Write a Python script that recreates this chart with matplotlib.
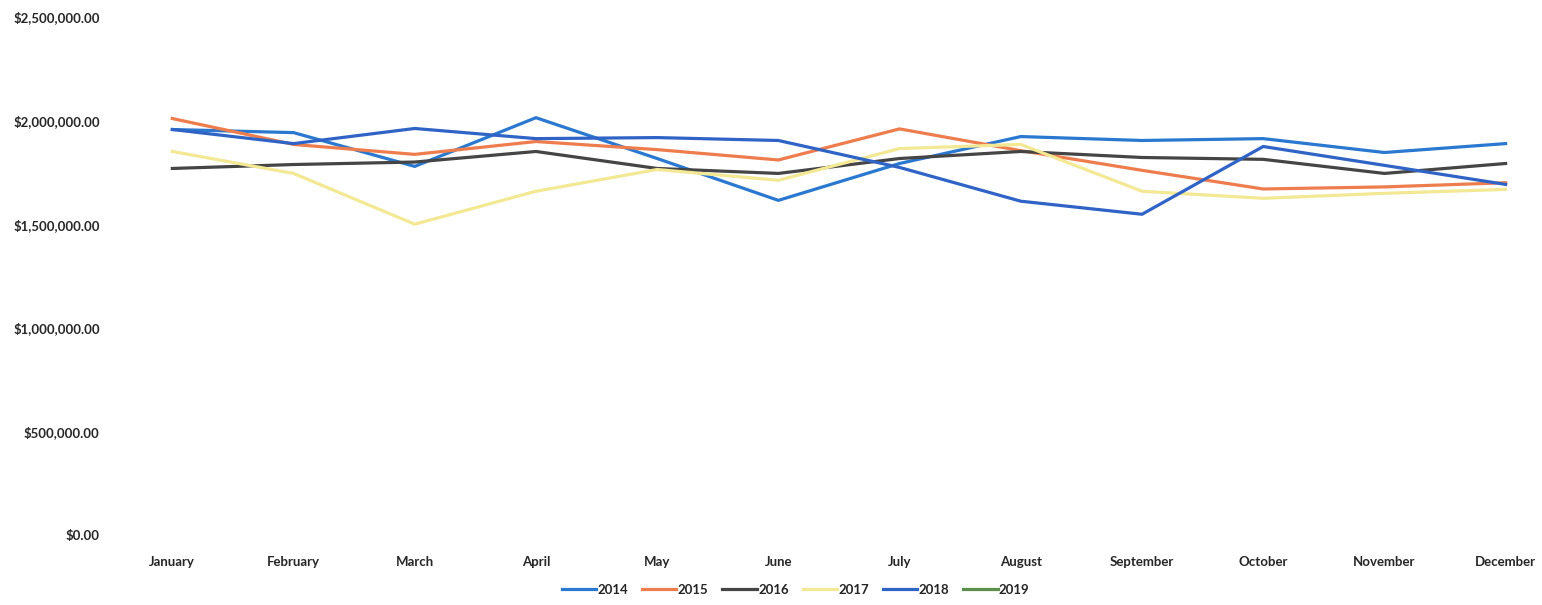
import matplotlib
matplotlib.use("Agg")
import matplotlib.pyplot as plt
from matplotlib.ticker import FuncFormatter

months = ["January", "February", "March", "April", "May", "June",
          "July", "August", "September", "October", "November", "December"]

sales_2014 = [1957000, 1942000, 1779000, 2014000, 1817000, 1615000,
              1793000, 1923000, 1904000, 1913000, 1846000, 1889000]
sales_2015 = [2010000, 1885000, 1837000, 1899000, 1860000, 1810000,
              1960000, 1855000, 1760000, 1670000, 1680000, 1700000]
sales_2016 = [1769000, 1788000, 1800000, 1851000, 1769000, 1745000,
              1817000, 1851000, 1822000, 1813000, 1745000, 1793000]
sales_2017 = [1851000, 1745000, 1500000, 1659000, 1764000, 1712000,
              1865000, 1885000, 1659000, 1625000, 1649000, 1668000]
sales_2018 = [1957000, 1889000, 1962000, 1913000, 1918000, 1904000,
              1774000, 1611000, 1548000, 1875000, 1784000, 1692000]
sales_2019 = [None] * 12

years = ["2014", "2015", "2016", "2017", "2018", "2019"]
series = [sales_2014, sales_2015, sales_2016, sales_2017, sales_2018, sales_2019]
colors = ["#2A78CF", "#EE7D4E", "#454545", "#F3E894", "#2F64C6", "#5A904A"]

plt.rcParams["font.family"] = ["Lato", "DejaVu Sans"]

fig = plt.figure(figsize=(15.42, 6.05), dpi=100)
ax = fig.add_axes([0.08, 0.1157, 0.91, 0.8562])

x = list(range(len(months)))
for year, vals, col in zip(years, series, colors):
    yvals = [float("nan") if v is None else v for v in vals]
    ax.plot(x, yvals, color=col, lw=2.3, label=year, solid_joinstyle="miter")

ax.set_xlim(-0.404, 11.173)
ax.set_ylim(0, 2500000)
ax.set_yticks([0, 500000, 1000000, 1500000, 2000000, 2500000])
ax.yaxis.set_major_formatter(FuncFormatter(lambda v, p: f"${v:,.2f}"))
ax.set_xticks(x)
ax.set_xticklabels(months)

for s in ax.spines.values():
    s.set_visible(False)
ax.tick_params(axis="both", length=0, colors="#262626", labelsize=9.5)
ax.tick_params(axis="x", pad=15)
ax.tick_params(axis="y", pad=17)
for lab in ax.get_xticklabels() + ax.get_yticklabels():
    lab.set_fontweight("bold")

leg = fig.legend(loc="center", bbox_to_anchor=(0.516, 0.025), ncol=6,
                 frameon=False, fontsize=9.5, handlelength=2.6,
                 handletextpad=0.1, columnspacing=1.06)
for t in leg.get_texts():
    t.set_fontweight("bold")
    t.set_color("#262626")

fig.savefig("out.png", dpi=100, facecolor="white")
